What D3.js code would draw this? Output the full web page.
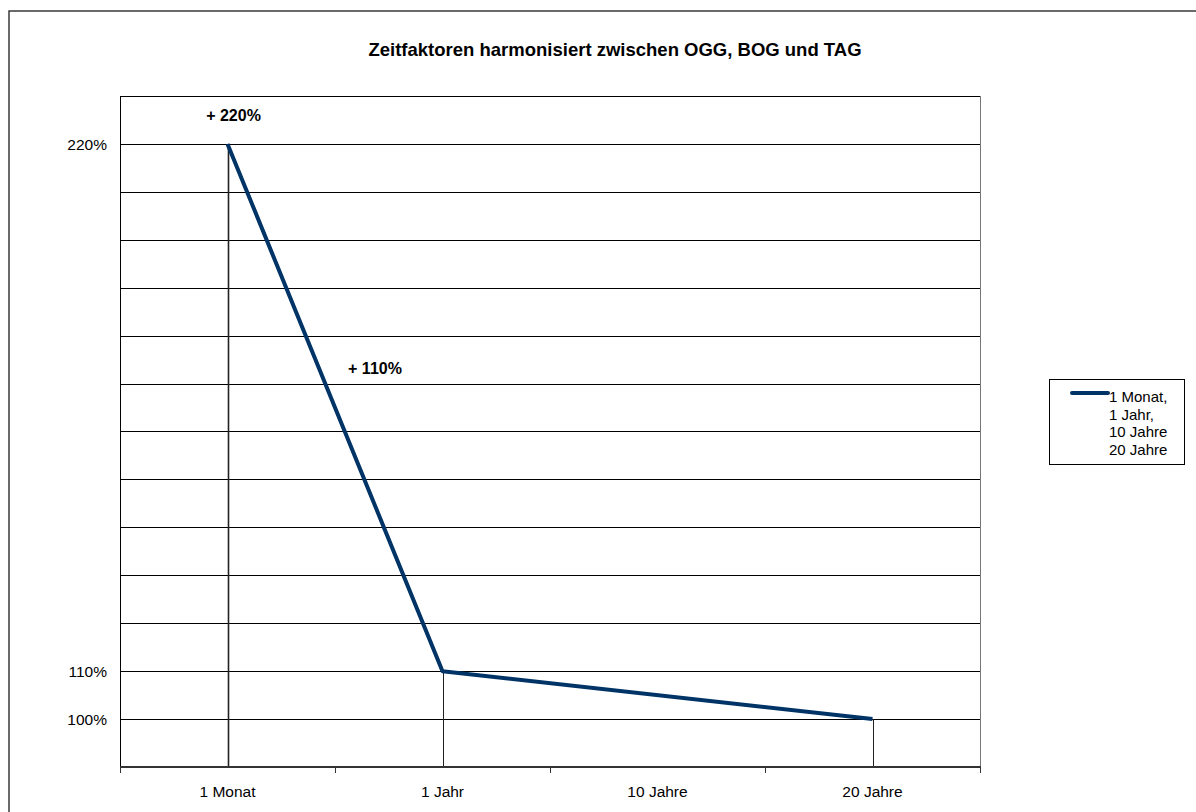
<!DOCTYPE html>
<html>
<head>
<meta charset="utf-8">
<script src="https://cdn.jsdelivr.net/npm/d3@7"></script>
<style>
  body { margin: 0; background: #fff; }
  svg { display: block; font-family: "Liberation Sans", Arial, sans-serif; }
</style>
</head>
<body>
<script>
'use strict';

// chart data
const categories = ["1 Monat", "1 Jahr", "10 Jahre", "20 Jahre"];
const factors = [2.2, 1.1, null, 1.0];      // 10 Jahre has no value, Excel connects across it
const gridValues = [1.0, 1.1, 1.2, 1.3, 1.4, 1.5, 1.6, 1.7, 1.8, 1.9, 2.0, 2.1, 2.2];
const yLabelValues = [1.0, 1.1, 2.2];
const legendLines = ["1 Monat,", "1 Jahr,", "10 Jahre", "20 Jahre"];
const notes = ["+ 220%", "+ 110%"];
const title = "Zeitfaktoren harmonisiert zwischen OGG, BOG und TAG";

const width = 1196, height = 812;
const plot = { left: 120, top: 96, right: 980, bottom: 767 };
const navy = "#003366";

let svg = d3.select("body").append("svg")
    .attr("width", width)
    .attr("height", height);

// outer chart frame (runs off the right and bottom of the picture)
svg.append("rect")
    .attr("x", 9).attr("y", 11)
    .attr("width", width + 40).attr("height", height + 40)
    .attr("fill", "none")
    .attr("stroke", "#3a3a3a")
    .attr("stroke-width", 1.5);

svg.append("text")
    .attr("x", 615).attr("y", 56)
    .attr("text-anchor", "middle")
    .style("font-size", "18.5px")
    .style("font-weight", "bold")
    .text(title);

let x = d3.scaleBand()
    .domain(categories)
    .range([plot.left, plot.right]);

let y = d3.scaleLinear()
    .domain([0.9, 2.3])
    .range([plot.bottom, plot.top]);

let cx = c => x(c) + x.bandwidth() / 2;

// horizontal grid
svg.append("g")
    .selectAll("line")
    .data(gridValues)
    .enter().append("line")
    .attr("x1", plot.left).attr("x2", plot.right)
    .attr("y1", d => Math.round(y(d)) + 0.5)
    .attr("y2", d => Math.round(y(d)) + 0.5)
    .attr("stroke", "#000")
    .attr("stroke-width", 1);

// plot frame
svg.append("line")
    .attr("x1", plot.left).attr("x2", plot.right)
    .attr("y1", plot.top + 0.5).attr("y2", plot.top + 0.5)
    .attr("stroke", "#000");
svg.append("line")
    .attr("x1", plot.left + 0.5).attr("x2", plot.left + 0.5)
    .attr("y1", plot.top).attr("y2", plot.bottom)
    .attr("stroke", "#000");
svg.append("line")
    .attr("x1", plot.right + 0.5).attr("x2", plot.right + 0.5)
    .attr("y1", plot.top).attr("y2", plot.bottom)
    .attr("stroke", "#777");

// y labels
svg.append("g")
    .selectAll("text")
    .data(yLabelValues)
    .enter().append("text")
    .attr("x", 107)
    .attr("y", d => y(d))
    .attr("dy", "0.36em")
    .attr("text-anchor", "end")
    .style("font-size", "15.5px")
    .text(d => d3.format(".0%")(d));

// points that have a value
let pts = categories
    .map((c, i) => ({ cat: c, v: factors[i] }))
    .filter(d => d.v != null);

// drop lines
svg.append("g")
    .selectAll("line")
    .data(pts)
    .enter().append("line")
    .attr("x1", d => Math.round(cx(d.cat)) + 0.5)
    .attr("x2", d => Math.round(cx(d.cat)) + 0.5)
    .attr("y1", d => y(d.v))
    .attr("y2", plot.bottom)
    .attr("stroke", "#222")
    .attr("stroke-width", (d, i) => i === 0 ? 1.6 : 1);

// x axis
let xAxis = svg.append("g")
    .attr("transform", "translate(0," + plot.bottom + ")");
xAxis.append("line")
    .attr("x1", plot.left).attr("x2", plot.right + 1)
    .attr("stroke", "#333")
    .attr("stroke-width", 2);
xAxis.selectAll(".tick")
    .data(categories.concat([null]))
    .enter().append("line")
    .attr("class", "tick")
    .attr("x1", (d, i) => Math.round(plot.left + i * x.bandwidth()) + 0.5)
    .attr("x2", (d, i) => Math.round(plot.left + i * x.bandwidth()) + 0.5)
    .attr("y1", 0).attr("y2", 6)
    .attr("stroke", "#333");
xAxis.selectAll("text")
    .data(categories)
    .enter().append("text")
    .attr("x", d => cx(d))
    .attr("y", 30)
    .attr("text-anchor", "middle")
    .style("font-size", "15.5px")
    .text(d => d);

// the series line
let line = d3.line()
    .x(d => cx(d.cat))
    .y(d => y(d.v));

svg.append("path")
    .datum(pts)
    .attr("d", line)
    .attr("fill", "none")
    .attr("stroke", navy)
    .attr("stroke-width", 4)
    .attr("stroke-linejoin", "round");

// text notes
svg.append("text")
    .attr("x", cx(categories[0]) + 6)
    .attr("y", y(factors[0]) - 23)
    .attr("text-anchor", "middle")
    .style("font-size", "16px")
    .style("font-weight", "bold")
    .text(notes[0]);

let midX = (cx(categories[0]) + cx(categories[1])) / 2;
let midY = (y(factors[0]) + y(factors[1])) / 2;
svg.append("text")
    .attr("x", midX + 40)
    .attr("y", midY - 34)
    .attr("text-anchor", "middle")
    .style("font-size", "16px")
    .style("font-weight", "bold")
    .text(notes[1]);

// legend
let legend = svg.append("g");
legend.append("rect")
    .attr("x", 1049.5).attr("y", 379.5)
    .attr("width", 135).attr("height", 85)
    .attr("fill", "#fff")
    .attr("stroke", "#000");
legend.append("line")
    .attr("x1", 1072).attr("x2", 1108)
    .attr("y1", 393).attr("y2", 393)
    .attr("stroke", navy)
    .attr("stroke-width", 4)
    .attr("stroke-linecap", "round");
let legendY = [402, 420, 437, 455];
legend.selectAll("text")
    .data(legendLines)
    .enter().append("text")
    .attr("x", 1109)
    .attr("y", (d, i) => legendY[i])
    .style("font-size", "15px")
    .text(d => d);
</script>
</body>
</html>
